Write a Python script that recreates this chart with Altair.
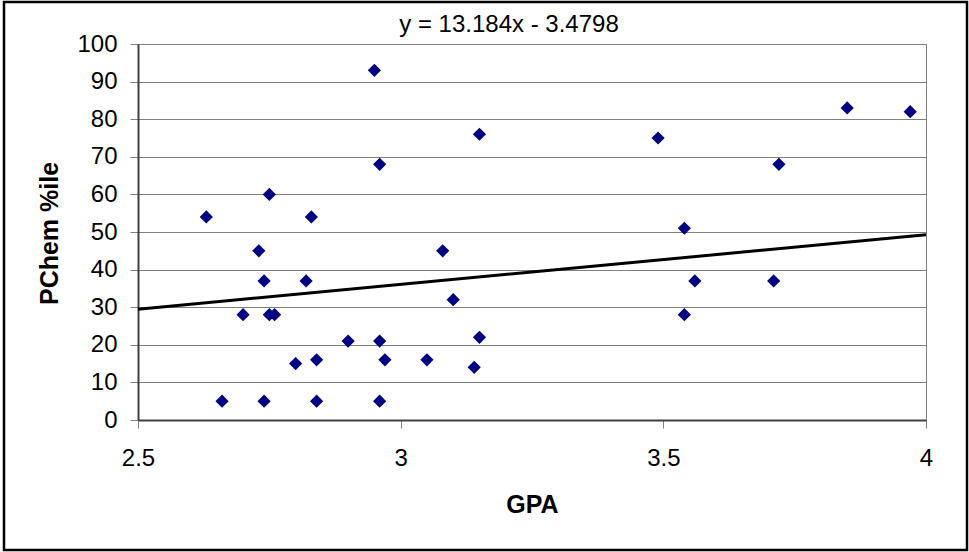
import altair as alt
import pandas as pd

# ---- data ----
gpa = [2.63, 2.75, 2.83, 2.95, 2.96, 2.73, 2.74, 2.70, 2.75, 2.76,
       2.66, 2.74, 2.80, 2.82, 2.84, 2.84, 2.90, 2.96, 2.97, 2.96,
       3.05, 3.08, 3.15, 3.49, 3.54, 3.56, 3.10, 3.54, 3.15, 3.14,
       3.85, 3.97, 3.72, 3.71]
pchem = [54, 60, 54, 93, 68, 45, 37, 28, 28, 28,
         5, 5, 15, 37, 16, 5, 21, 21, 16, 5,
         16, 45, 76, 75, 51, 37, 32, 28, 22, 14,
         83, 82, 68, 37]

trend_x = [2.5, 4.0]
trend_y = [29.48, 49.26]
trend_label = "y = 13.184x - 3.4798"

x_ticks = [2.5, 3, 3.5, 4]
y_ticks = [0, 10, 20, 30, 40, 50, 60, 70, 80, 90, 100]

FONT = "Liberation Sans"

pts = pd.DataFrame({"GPA": gpa, "PChem": pchem})
trend = pd.DataFrame({"GPA": trend_x, "PChem": trend_y})
lbl = pd.DataFrame({"t": [trend_label]})

W, H = 788, 376
PL, PT = 138, 44

xs = alt.Scale(domain=[2.5, 4], nice=False, zero=False)
ys = alt.Scale(domain=[0, 100], nice=False, zero=True)

xaxis = alt.Axis(values=x_ticks, format="~g", grid=False, title="GPA",
                 titleFont=FONT, titleFontSize=25, titleFontWeight="bold",
                 titleColor="black", titleX=394, titleY=92,
                 titleAlign="center", titleBaseline="alphabetic",
                 labelPadding=18, tickSize=8, labelFlush=False,
                 labelOverlap=False)
yaxis = alt.Axis(values=y_ticks, grid=True, title="PChem %ile",
                 titleFont=FONT, titleFontSize=25, titleFontWeight="bold",
                 titleColor="black", titleX=-81, titleY=189, titleAngle=270,
                 titleAlign="center", titleBaseline="alphabetic",
                 labelPadding=13, tickSize=8, labelBaseline="middle",
                 labelOverlap=False, labelFlush=False)

points = alt.Chart(pts).mark_point(
    shape="diamond", filled=True, color="#000080", size=175, opacity=1
).encode(
    x=alt.X("GPA:Q", scale=xs, axis=xaxis),
    y=alt.Y("PChem:Q", scale=ys, axis=yaxis),
)

line = alt.Chart(trend).mark_line(color="black", strokeWidth=3).encode(
    x=alt.X("GPA:Q", scale=xs, axis=xaxis),
    y=alt.Y("PChem:Q", scale=ys, axis=yaxis),
)

title = alt.Chart(lbl).mark_text(
    font=FONT, fontSize=24, color="black", align="center", baseline="alphabetic"
).encode(text="t:N", x=alt.value(371), y=alt.value(-12))

border = alt.Chart(lbl).mark_rect(
    fill=None, stroke="black", strokeWidth=2.5
).encode(x=alt.value(-134), x2=alt.value(829), y=alt.value(-42), y2=alt.value(506))

chart = alt.layer(points, line, title, border).properties(
    width=W, height=H,
    padding={"left": PL, "top": PT, "right": 969 - PL - W, "bottom": 552 - PT - H},
    autosize=alt.AutoSizeParams(type="none"),
    background="white",
).configure_view(
    stroke="#808080", strokeWidth=1
).configure_axis(
    labelFont=FONT, labelFontSize=24, labelColor="black",
    domainColor="#404040", domainWidth=2,
    tickColor="#808080", tickWidth=1,
    gridColor="#808080", gridWidth=1, gridOpacity=1,
)

chart.save("out.html", embed_options={"renderer": "svg", "actions": False})
